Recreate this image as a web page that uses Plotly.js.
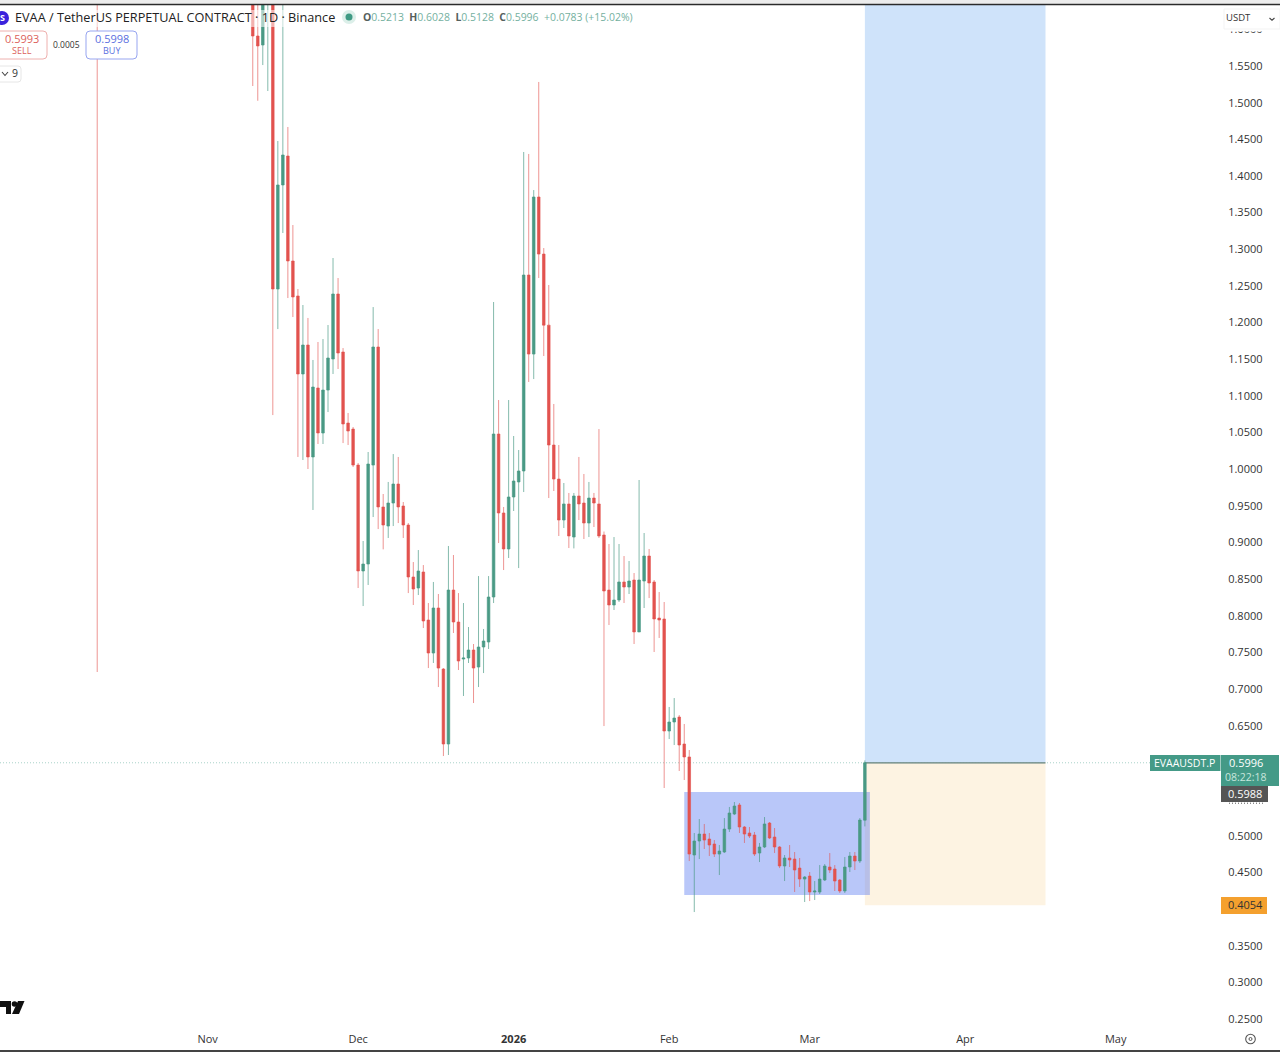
<!DOCTYPE html>
<html>
<head>
<meta charset="utf-8">
<script src="https://cdn.plot.ly/plotly-3.0.1.min.js"></script>
<style>html,body{margin:0;padding:0;background:#fff;overflow:hidden}</style>
</head>
<body>
<div id="chart" style="width:1280px;height:1052px"></div>
<script>
const dates = ['2025-10-10',
'2025-11-10','2025-11-11','2025-11-12','2025-11-13','2025-11-14','2025-11-15','2025-11-16','2025-11-17','2025-11-18','2025-11-19','2025-11-20','2025-11-21','2025-11-22','2025-11-23','2025-11-24','2025-11-25','2025-11-26','2025-11-27','2025-11-28','2025-11-29','2025-11-30',
'2025-12-01','2025-12-02','2025-12-03','2025-12-04','2025-12-05','2025-12-06','2025-12-07','2025-12-08','2025-12-09','2025-12-10','2025-12-11','2025-12-12','2025-12-13','2025-12-14','2025-12-15','2025-12-16','2025-12-17','2025-12-18','2025-12-19','2025-12-20','2025-12-21','2025-12-22','2025-12-23','2025-12-24','2025-12-25','2025-12-26','2025-12-27','2025-12-28','2025-12-29','2025-12-30','2025-12-31',
'2026-01-01','2026-01-02','2026-01-03','2026-01-04','2026-01-05','2026-01-06','2026-01-07','2026-01-08','2026-01-09','2026-01-10','2026-01-11','2026-01-12','2026-01-13','2026-01-14','2026-01-15','2026-01-16','2026-01-17','2026-01-18','2026-01-19','2026-01-20','2026-01-21','2026-01-22','2026-01-23','2026-01-24','2026-01-25','2026-01-26','2026-01-27','2026-01-28','2026-01-29','2026-01-30','2026-01-31',
'2026-02-01','2026-02-02','2026-02-03','2026-02-04','2026-02-05','2026-02-06','2026-02-07','2026-02-08','2026-02-09','2026-02-10','2026-02-11','2026-02-12','2026-02-13','2026-02-14','2026-02-15','2026-02-16','2026-02-17','2026-02-18','2026-02-19','2026-02-20','2026-02-21','2026-02-22','2026-02-23','2026-02-24','2026-02-25','2026-02-26','2026-02-27','2026-02-28',
'2026-03-01','2026-03-02','2026-03-03','2026-03-04','2026-03-05','2026-03-06','2026-03-07','2026-03-08','2026-03-09','2026-03-10','2026-03-11','2026-03-12'];

const opens = [1.95,
1.70,1.5909,1.5786,1.6536,1.72,1.2458,1.3877,1.4272,1.284,1.2363,1.1299,1.1694,1.0167,1.1108,1.0494,1.108,1.1503,1.239,1.1599,1.063,1.0548,
1.0057,.8612,.8707,1.0057,1.1667,.9485,.9225,.9539,.9798,.9498,.9239,.853,.838,.8598,.7943,.7493,.8107,.7275,.6252,.8352,.7916,.7411,.7425,.7534,.7302,.7575,.7643,.8257,1.048,.9403,.8912,
.9621,.9826,.9976,1.2649,1.1571,1.3713,1.2935,1.1965,1.033,.9866,.9307,.9526,.9075,.9635,.9539,.9266,.9607,.9526,.9103,.8352,.8148,.8216,.8462,.8393,.8489,.778,.8475,.8816,.8462,.797,.7957,
.6429,.6552,.662,.6252,.6075,.4738,.4929,.5024,.4956,.4888,.4751,.4779,.5092,.5297,.542,.512,.5038,.5011,.4765,.4847,.5174,.4983,.4847,.4588,.4697,.4683,.456,.441,
.4451,.4233,.4233,.4397,.4574,.4547,.4397,.4247,.4574,.4724,.4656,.5213];

const highs = [2.0,
1.72,1.66,1.70,1.74,1.76,1.4477,1.66,1.4668,1.3331,1.2458,1.224,1.2063,1.149,1.1735,1.1776,1.1967,1.2881,1.2608,1.1653,1.0767,1.0576,
1.0085,.9021,1.0235,1.2212,1.1912,.9662,.9826,1.0207,1.0167,.9553,.9266,.8734,.8898,.8693,.8175,.8462,.8298,.7288,.8953,.883,.8311,.8175,.7848,.7616,.8543,.7821,.8543,1.2281,1.0944,.9485,1.0944,
1.0453,1.0262,1.4327,1.43,1.3808,1.5282,1.3017,1.2513,1.089,1.033,.9812,.9676,.9676,1.0167,.9935,.9826,.9676,1.0548,.915,.898,.9075,.898,.8816,.8748,.8584,.9853,.913,.8912,.8489,.8325,.8189,
.6757,.6879,.6647,.6525,.617,.5038,.5229,.5161,.5038,.4942,.4874,.5242,.5393,.5461,.5447,.5133,.512,.5052,.4902,.5256,.5188,.5106,.486,.4738,.4874,.4779,.4697,.4451,
.4506,.4383,.4601,.4615,.4765,.4601,.441,.471,.4779,.4779,.5242,.6028];

const lows = [.7234,
1.5227,1.5026,1.5513,1.5159,1.0739,1.1912,1.3222,1.2335,1.2076,1.0167,1.0126,1.0003,.9444,1.0344,1.0344,1.078,1.1299,1.1367,1.0357,1.033,1.003,
.838,.8134,.8421,.9348,.9184,.8907,.9062,.9225,.9266,.9062,.8311,.8148,.8284,.7834,.7288,.7357,.7029,.6088,.6102,.7766,.7261,.6907,.7357,.6811,.7029,.722,.7548,.8175,.8993,.8625,.8789,
.943,.8652,.9689,1.119,1.123,1.2608,1.1544,.9607,.9703,.9089,.9198,.8925,.892,.9307,.9048,.9075,.9212,.9062,.6497,.7875,.808,.8189,.8175,.8298,.7616,.778,.8107,.8243,.7507,.7698,.5652,
.632,.6238,.5884,.5761,.4656,.396,.4683,.482,.4724,.4711,.4465,.4765,.5052,.5283,.5038,.4902,.497,.4724,.4642,.4833,.4956,.4765,.456,.4383,.4574,.4233,.4302,.4097,
.411,.4124,.4206,.4383,.4492,.4247,.422,.422,.4506,.4533,.4629,.5128];

const closes = [1.90,
1.5909,1.5773,1.667,1.72,1.2458,1.3877,1.4286,1.284,1.2349,1.1299,1.1694,1.0167,1.1121,1.0494,1.108,1.1517,1.239,1.1585,1.0617,1.0521,1.0057,
.8612,.8707,1.0071,1.1667,.9485,.9239,.9539,.9798,.9485,.9239,.853,.8366,.8612,.793,.7493,.8107,.7288,.6252,.8352,.7916,.7384,.7425,.7534,.7288,.7575,.7657,.8257,1.048,.9403,.8912,.9621,
.9839,.9976,1.2649,1.1571,1.3713,1.2935,1.1965,1.033,.9866,.9307,.9526,.9089,.9635,.9526,.9266,.9607,.9539,.9089,.8339,.8148,.8216,.8462,.8393,.8475,.778,.8489,.8816,.8448,.7957,.7943,.6429,
.6552,.6606,.6238,.6075,.4751,.4929,.5024,.4942,.4874,.4751,.4792,.5092,.5311,.5406,.512,.5024,.4997,.4751,.4847,.5161,.497,.4847,.4588,.4697,.467,.4533,.441,.4438,
.4233,.4247,.441,.4588,.4533,.4383,.4247,.4574,.4724,.4656,.5215,.5996];

const priceTicks = [1.6,1.55,1.5,1.45,1.4,1.35,1.3,1.25,1.2,1.15,1.1,1.05,1.0,.95,.9,.85,.8,.75,.7,.65,.5,.45,.35,.3,.25];
const timeTicks = ['2025-11-01','2025-12-01','2026-01-01','2026-02-01','2026-03-01','2026-04-01','2026-05-01'];
const timeLabels = ['Nov','Dec','<b>2026</b>','Feb','Mar','Apr','May'];

const lastPrice = 0.5996, stopPrice = 0.4054, topPrice = 1.70;
const posStart = '2026-03-12', posEnd = '2026-04-17';
const boxStart = '2026-02-04', boxEnd = '2026-03-13', boxTop = 0.5597, boxBottom = 0.4192;

const W = 1221, H = 1022, TOP = 5;
const px = x => x / W;
const py = y => (TOP + H - y) / H;
const FONT = '"Open Sans", sans-serif';
const RED = '#e2534f', GREEN = '#4a9a85';
const RED_LINE = 'rgba(226,83,79,0.62)', GREEN_LINE = 'rgba(74,154,133,0.68)';

function A(x, y, text, size, color, anchor) {
  return {xref:'paper', yref:'paper', x:px(x), y:py(y-0.7), text:text, showarrow:false,
    xanchor:anchor||'center', yanchor:'middle', align:'left',
    font:{family:FONT, size:size, color:color}, borderpad:0};
}
function R(x0, y0, x1, y1, fill, line, lw) {
  return {type:'rect', xref:'paper', yref:'paper', x0:px(x0), x1:px(x1), y0:py(y0), y1:py(y1),
    fillcolor:fill, line:{color:line||'rgba(0,0,0,0)', width:lw===undefined?(line?1:0):lw}, layer:'above'};
}
function RR(x0, y0, x1, y1, r, fill, line) {
  const a=(x,y)=>px(x)+','+py(y);
  const d='M'+a(x0+r,y0)+' L'+a(x1-r,y0)+' Q'+a(x1,y0)+' '+a(x1,y0+r)+' L'+a(x1,y1-r)+' Q'+a(x1,y1)+' '+a(x1-r,y1)+
    ' L'+a(x0+r,y1)+' Q'+a(x0,y1)+' '+a(x0,y1-r)+' L'+a(x0,y0+r)+' Q'+a(x0,y0)+' '+a(x0+r,y0)+' Z';
  return {type:'path', xref:'paper', yref:'paper', path:d, fillcolor:fill, line:{color:line, width:1}, layer:'above'};
}
function C(cx, cy, r, fill, line, lw) {
  return {type:'circle', xref:'paper', yref:'paper', x0:px(cx-r), x1:px(cx+r), y0:py(cy-r), y1:py(cy+r),
    fillcolor:fill, line:{color:line||'rgba(0,0,0,0)', width:lw||0}, layer:'above'};
}
function P(pts, fill, line, lw, dash) {
  const d = pts.map((p,i)=>(i?'L':'M')+px(p[0])+','+py(p[1])).join(' ') + (fill?' Z':'');
  return {type:'path', xref:'paper', yref:'paper', path:d, fillcolor:fill||'rgba(0,0,0,0)',
    line:{color:line||'rgba(0,0,0,0)', width:lw||0, dash:dash||'solid'}, layer:'above'};
}

const shapes = [
  {type:'rect', xref:'x', yref:'y', x0:posStart, x1:posEnd, y0:lastPrice, y1:topPrice, fillcolor:'#cfe3fa', line:{width:0}, layer:'below'},
  {type:'rect', xref:'x', yref:'y', x0:posStart, x1:posEnd, y0:stopPrice, y1:lastPrice, fillcolor:'#fdf3e2', line:{width:0}, layer:'below'},
  {type:'rect', xref:'x', yref:'y', x0:boxStart, x1:boxEnd, y0:boxBottom, y1:boxTop, fillcolor:'rgba(72,108,240,0.38)', line:{width:0}, layer:'below'},
  {type:'line', xref:'paper', yref:'y', x0:0, x1:1, y0:lastPrice, y1:lastPrice, line:{color:'#a9d3c9', width:1, dash:'1px,2px'}, layer:'below'},
  {type:'line', xref:'x', yref:'y', x0:posStart, x1:posEnd, y0:lastPrice, y1:lastPrice, line:{color:'#5f7f78', width:1.2}, layer:'below'},

  R(0, 10, 640, 27, 'rgba(255,255,255,0.55)'),
  R(0, 0, 1280, 3.8, '#ececec'),
  R(0, 3.8, 1280, 5.2, '#2a2a2a'),
  R(0, 1050, 1280, 1052, '#444444'),

  C(2, 18, 7, '#3a22dc'),
  C(349, 17, 7, '#dcefe9'),
  C(349, 17, 3.5, '#3f9a84'),

  RR(-6, 31, 47, 59, 4, '#ffffff', '#eeb0ae'),
  RR(86, 31, 137, 59, 4, '#ffffff', '#97a5f0'),
  RR(-6, 66, 21, 82, 3, '#ffffff', '#e6e6e6'),
  P([[2,72],[5,75.5],[8,72]], null, '#444444', 1.1),

  R(1224, 31.5, 1280, 28, '#ffffff'),
  R(1224, 9, 1280, 29, '#ffffff', '#f3f3f3'),
  P([[1269.5,18],[1272,20.2],[1274.5,18]], null, '#444444', 1.1),

  R(1150, 755, 1220.5, 771, '#449a87'),
  R(1221, 755, 1279, 786, '#449a87'),
  R(1221, 786, 1268, 802, '#555555'),
  P([[1229,803.2],[1263,803.2]], null, '#555555', 1, '1px,2px'),
  R(1221, 897, 1267, 914, '#f4a02e'),

  P([[0,1001],[11,1001],[11,1014],[6,1014],[6,1007],[0,1007]], '#111111'),
  C(14.5, 1004, 2.8, '#111111'),
  P([[18,1001],[24.5,1001],[19,1014],[12,1014]], '#111111'),

  C(1250.5, 1039, 4.8, 'rgba(0,0,0,0)', '#555555', 1.1),
  C(1250.5, 1039, 1.5, 'rgba(0,0,0,0)', '#555555', 1)
];

const lab = '#55605d', val = '#74b0a0';
const seg = (k,v) => '<span style="color:'+lab+'"><b>'+k+'</b></span><span style="color:'+val+'">'+v+'</span>';
const annotations = [
  A(2, 18, '<b>S</b>', 9, '#ffffff'),
  A(13.5, 18, 'EVAA / TetherUS PERPETUAL CONTRACT · 1D · Binance', 12.7, '#222222', 'left'),
  A(362, 17.7, seg('O','0.5213')+'  '+seg('H','0.6028')+'  '+seg('L','0.5128')+'  '+seg('C','0.5996')+'  <span style="color:'+val+'">+0.0783 (+15.02%)</span>', 10.45, val, 'left'),
  A(21.5, 39.5, '0.5993', 11, '#dc5f5b'),
  A(21.5, 51, 'SELL', 9, '#dc5f5b'),
  A(66.5, 45, '0.0005', 8.5, '#333333'),
  A(111.5, 39.5, '0.5998', 11, '#5b6fe0'),
  A(111.5, 51, 'BUY', 9, '#5b6fe0'),
  A(15, 74, '9', 10.5, '#333333'),
  A(1238.5, 18.5, 'USDT', 9.5, '#333333'),
  A(1184.5, 763.5, 'EVAAUSDT.P', 10.5, '#ffffff'),
  A(1245.5, 763.5, '0.5996', 11, '#ffffff'),
  A(1245.5, 777.5, '08:22:18', 10.5, '#c8e6dd'),
  A(1245, 794.3, '0.5988', 11, '#ffffff'),
  A(1245, 905.5, '0.4054', 11, '#333333')
];

const trace = {
  type:'candlestick', x:dates, open:opens, high:highs, low:lows, close:closes,
  increasing:{line:{color:GREEN_LINE, width:1}, fillcolor:GREEN},
  decreasing:{line:{color:RED_LINE, width:1}, fillcolor:RED},
  whiskerwidth:0, hoverinfo:'skip', showlegend:false
};

const layout = {
  width:1280, height:1052,
  margin:{l:0, r:59, t:TOP, b:25, pad:0, autoexpand:false},
  paper_bgcolor:'#ffffff', plot_bgcolor:'#ffffff',
  showlegend:false, boxgap:0.26,
  font:{family:FONT, size:11, color:'#333333'},
  xaxis:{type:'date', range:['2025-09-20 15:00','2026-05-21 23:30'],
    rangeslider:{visible:false}, showgrid:false, zeroline:false, showline:false,
    tickmode:'array', tickvals:timeTicks, ticktext:timeLabels, ticks:'outside', ticklen:2, tickcolor:'rgba(0,0,0,0)',
    tickangle:0, tickfont:{family:FONT, size:11, color:'#333333'}, automargin:false},
  yaxis:{side:'right', range:[0.2392,1.6332], showgrid:false, zeroline:false, showline:false,
    tickmode:'array', tickvals:priceTicks, ticktext:priceTicks.map(v=>v.toFixed(4)),
    ticks:'outside', ticklen:4, tickcolor:'rgba(0,0,0,0)', tickfont:{family:FONT, size:11, color:'#333333'}, automargin:false},
  shapes:shapes, annotations:annotations
};
Plotly.newPlot('chart', [trace], layout, {displayModeBar:false, staticPlot:true});
</script>
</body>
</html>
